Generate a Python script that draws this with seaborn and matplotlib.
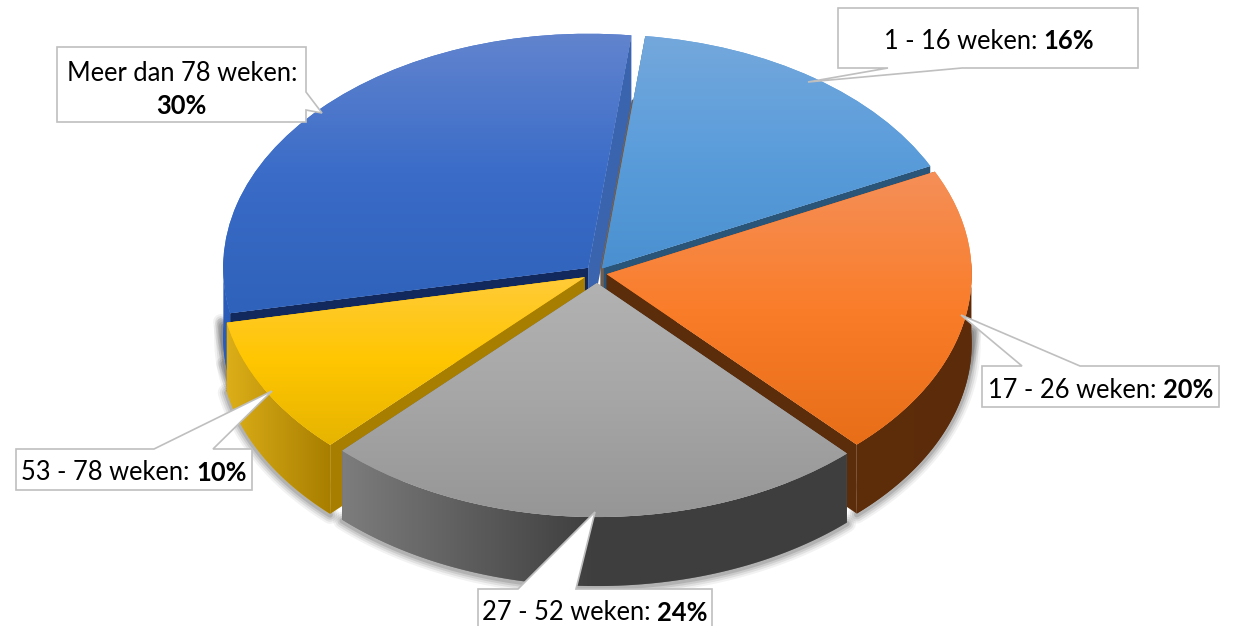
import numpy as np
import matplotlib
matplotlib.use("Agg")
import matplotlib.pyplot as plt
from matplotlib.patches import Polygon
import seaborn as sns

# ---- data
categories = ["1 - 16 weken", "17 - 26 weken", "27 - 52 weken", "53 - 78 weken", "Meer dan 78 weken"]
values = [15.9, 20.2, 24.3, 9.6, 30.0]
explode = [0.024, 0.027, 0.043, 0.038, 0.033]

# ---- styles
top_stops = [["#74a8dc", "#5b9ddb", "#4a90d0"],
             ["#f58f58", "#fa7d2a", "#e86e18"],
             ["#b2b2b2", "#a6a6a6", "#969696"],
             ["#ffcb38", "#ffc600", "#e6b400"],
             ["#6284ce", "#3a6cc8", "#2f62ba"]]
wall_stops = [["#2c5678", "#2c5678"],
              ["#5e2e0b", "#5c2c0a"],
              ["#7c7c7c", "#3e3e3e", "#3e3e3e"],
              ["#dcae18", "#a87e00"],
              ["#2a5cb8", "#2a5cb8"]]
cut_colors = ["#2a5478", "#5c2d0b", "#444444", "#a87e00", "#3a64ae"]
other_cut = {4: "#12295e"}
draw_order = [4, 0, 3, 1, 2]

W, H = 1238, 626
CX, CY, RX, RY, DEPTH = 597, 273, 365, 234, 69

def px(x, y):
    return (x - CX) / RX, (CY - y) / RY

sns.set_theme(style="white")
plt.rcParams["font.family"] = ["Lato", "DejaVu Sans"]

fig = plt.figure(figsize=(W / 100, H / 100), dpi=100)
ax = fig.add_axes([0, 0, 1, 1])
wedges, _ = ax.pie(values, explode=explode, startangle=83.2, counterclock=False,
                   radius=1, colors=[s[1] for s in top_stops],
                   wedgeprops=dict(linewidth=0, edgecolor="none"))
d = DEPTH / RY
ax.set_aspect("auto")

def gradient(stops, extent, clip, z, vertical):
    cmap = sns.blend_palette(stops, n_colors=128, as_cmap=True)
    g = np.linspace(0, 1, 128)
    arr = g[:, None] if vertical else g[None, :]
    im = ax.imshow(arr, cmap=cmap, extent=extent, origin="upper", aspect="auto",
                   interpolation="bilinear", zorder=z, vmin=0, vmax=1)
    im.set_clip_path(clip)

for rank, i in enumerate(draw_order):
    w = wedges[i]
    base = 20 + 10 * rank
    cx, cy = w.center
    th = np.radians(np.linspace(w.theta1, w.theta2, 240))
    ex, ey = cx + np.cos(th), cy + np.sin(th)

    # soft shadow below and beside the rim
    low = np.sin(th) <= 0.05
    side = np.sin(th) <= -0.05
    if low.any():
        for lw, a in zip([13, 10, 7, 4], [.05, .07, .09, .12]):
            ax.plot(ex[low], ey[low] - d - 1.0 / RY, color="black", lw=lw, alpha=a,
                    solid_capstyle="round", zorder=5)
    if side.any():
        for lw, a in zip([11, 8, 5], [.05, .07, .09]):
            ax.plot(cx + (ex[side] - cx) * 1.008, ey[side] - d * .6, color="black", lw=lw, alpha=a,
                    solid_capstyle="round", zorder=5)

    # straight cut faces
    for j, col in zip((0, -1), (cut_colors[i], other_cut.get(i, cut_colors[i]))):
        p = Polygon([(cx, cy), (ex[j], ey[j]), (ex[j], ey[j] - d), (cx, cy - d)],
                    closed=True, fc=col, ec="none", zorder=base)
        ax.add_patch(p)

    # thin dark seam along the first slice's leading edge, closing the gap at the hub
    if i == 0:
        f = 0.28
        ax.plot([ex[-1] + (cx - ex[-1]) * f, cx, cx], [ey[-1] + (cy - ey[-1]) * f, cy, cy - d * .35],
                color="#6e5f52", lw=2.5, zorder=base + 1)

    # outer curved wall
    if low.any():
        xs, ys = ex[low], ey[low]
        poly = np.vstack([np.c_[xs, ys], np.c_[xs[::-1], ys[::-1] - d]])
        p = Polygon(poly, closed=True, fc=wall_stops[i][0], ec="none", zorder=base + 1)
        ax.add_patch(p)
        gradient(wall_stops[i], (xs.min(), xs.max(), ys.min() - d, ys.max()), p, base + 2, False)

    # top face
    w.set_zorder(base + 3)
    pts = np.r_[ey, cy]
    gradient(top_stops[i], (min(ex.min(), cx), max(ex.max(), cx), pts.min(), pts.max()),
             w, base + 4, True)

ax.set_xlim(px(0, 0)[0], px(W, 0)[0])
ax.set_ylim(px(0, H)[1], px(0, 0)[1])
ax.axis("off")

# ---- callouts (pixel layout)
callouts = {
    0: dict(box=[(838, 8), (838, 68), (888, 68), (808, 82), (962, 68), (1138, 68), (1138, 8)], c=(989, 41)),
    1: dict(box=[(982, 366), (1022, 366), (961, 315), (1080, 366), (1219, 366), (1219, 407), (982, 407)], c=(1101, 390)),
    2: dict(box=[(478, 589), (518, 589), (595, 512), (576, 589), (712, 589), (712, 640), (478, 640)], c=(595, 613)),
    3: dict(box=[(16, 449), (154, 449), (272, 391), (213, 449), (252, 449), (252, 490), (16, 490)], c=(134, 473)),
    4: dict(box=[(57, 47), (306, 47), (306, 92), (322, 113), (306, 110), (306, 122), (57, 122)], c=(182, 73), c2=(181, 106)),
}

FS = 18.4
fig.canvas.draw()
rend = fig.canvas.get_renderer()
for i, cfg in callouts.items():
    ax.add_patch(Polygon([px(*q) for q in cfg["box"]], closed=True, fc="white", ec="#bfbfbf",
                         lw=1.2, zorder=90, clip_on=True))
    label = f"{categories[i]}: "
    pct = f"{round(values[i])}%"
    if "c2" in cfg:
        ax.text(*px(*cfg["c"]), label.strip(), fontsize=FS, color="black", ha="center", va="center", zorder=91)
        ax.text(*px(*cfg["c2"]), pct, fontsize=FS, fontweight="bold", color="black", ha="center", va="center", zorder=91)
    else:
        t1 = ax.text(0, 0, label + ".", fontsize=FS, color="black", alpha=0)
        t2 = ax.text(0, 0, pct, fontsize=FS, fontweight="bold", alpha=0)
        t3 = ax.text(0, 0, ".", fontsize=FS, alpha=0)
        w1 = t1.get_window_extent(rend).width - t3.get_window_extent(rend).width
        w2 = t2.get_window_extent(rend).width
        for t in (t1, t2, t3):
            t.remove()
        x0 = cfg["c"][0] - (w1 + w2) / 2
        ax.text(*px(x0, cfg["c"][1]), label, fontsize=FS, color="black", ha="left", va="center", zorder=91)
        ax.text(*px(x0 + w1, cfg["c"][1]), pct, fontsize=FS, fontweight="bold", color="black",
                ha="left", va="center", zorder=91)

fig.savefig("out.png", dpi=100, facecolor="white")
